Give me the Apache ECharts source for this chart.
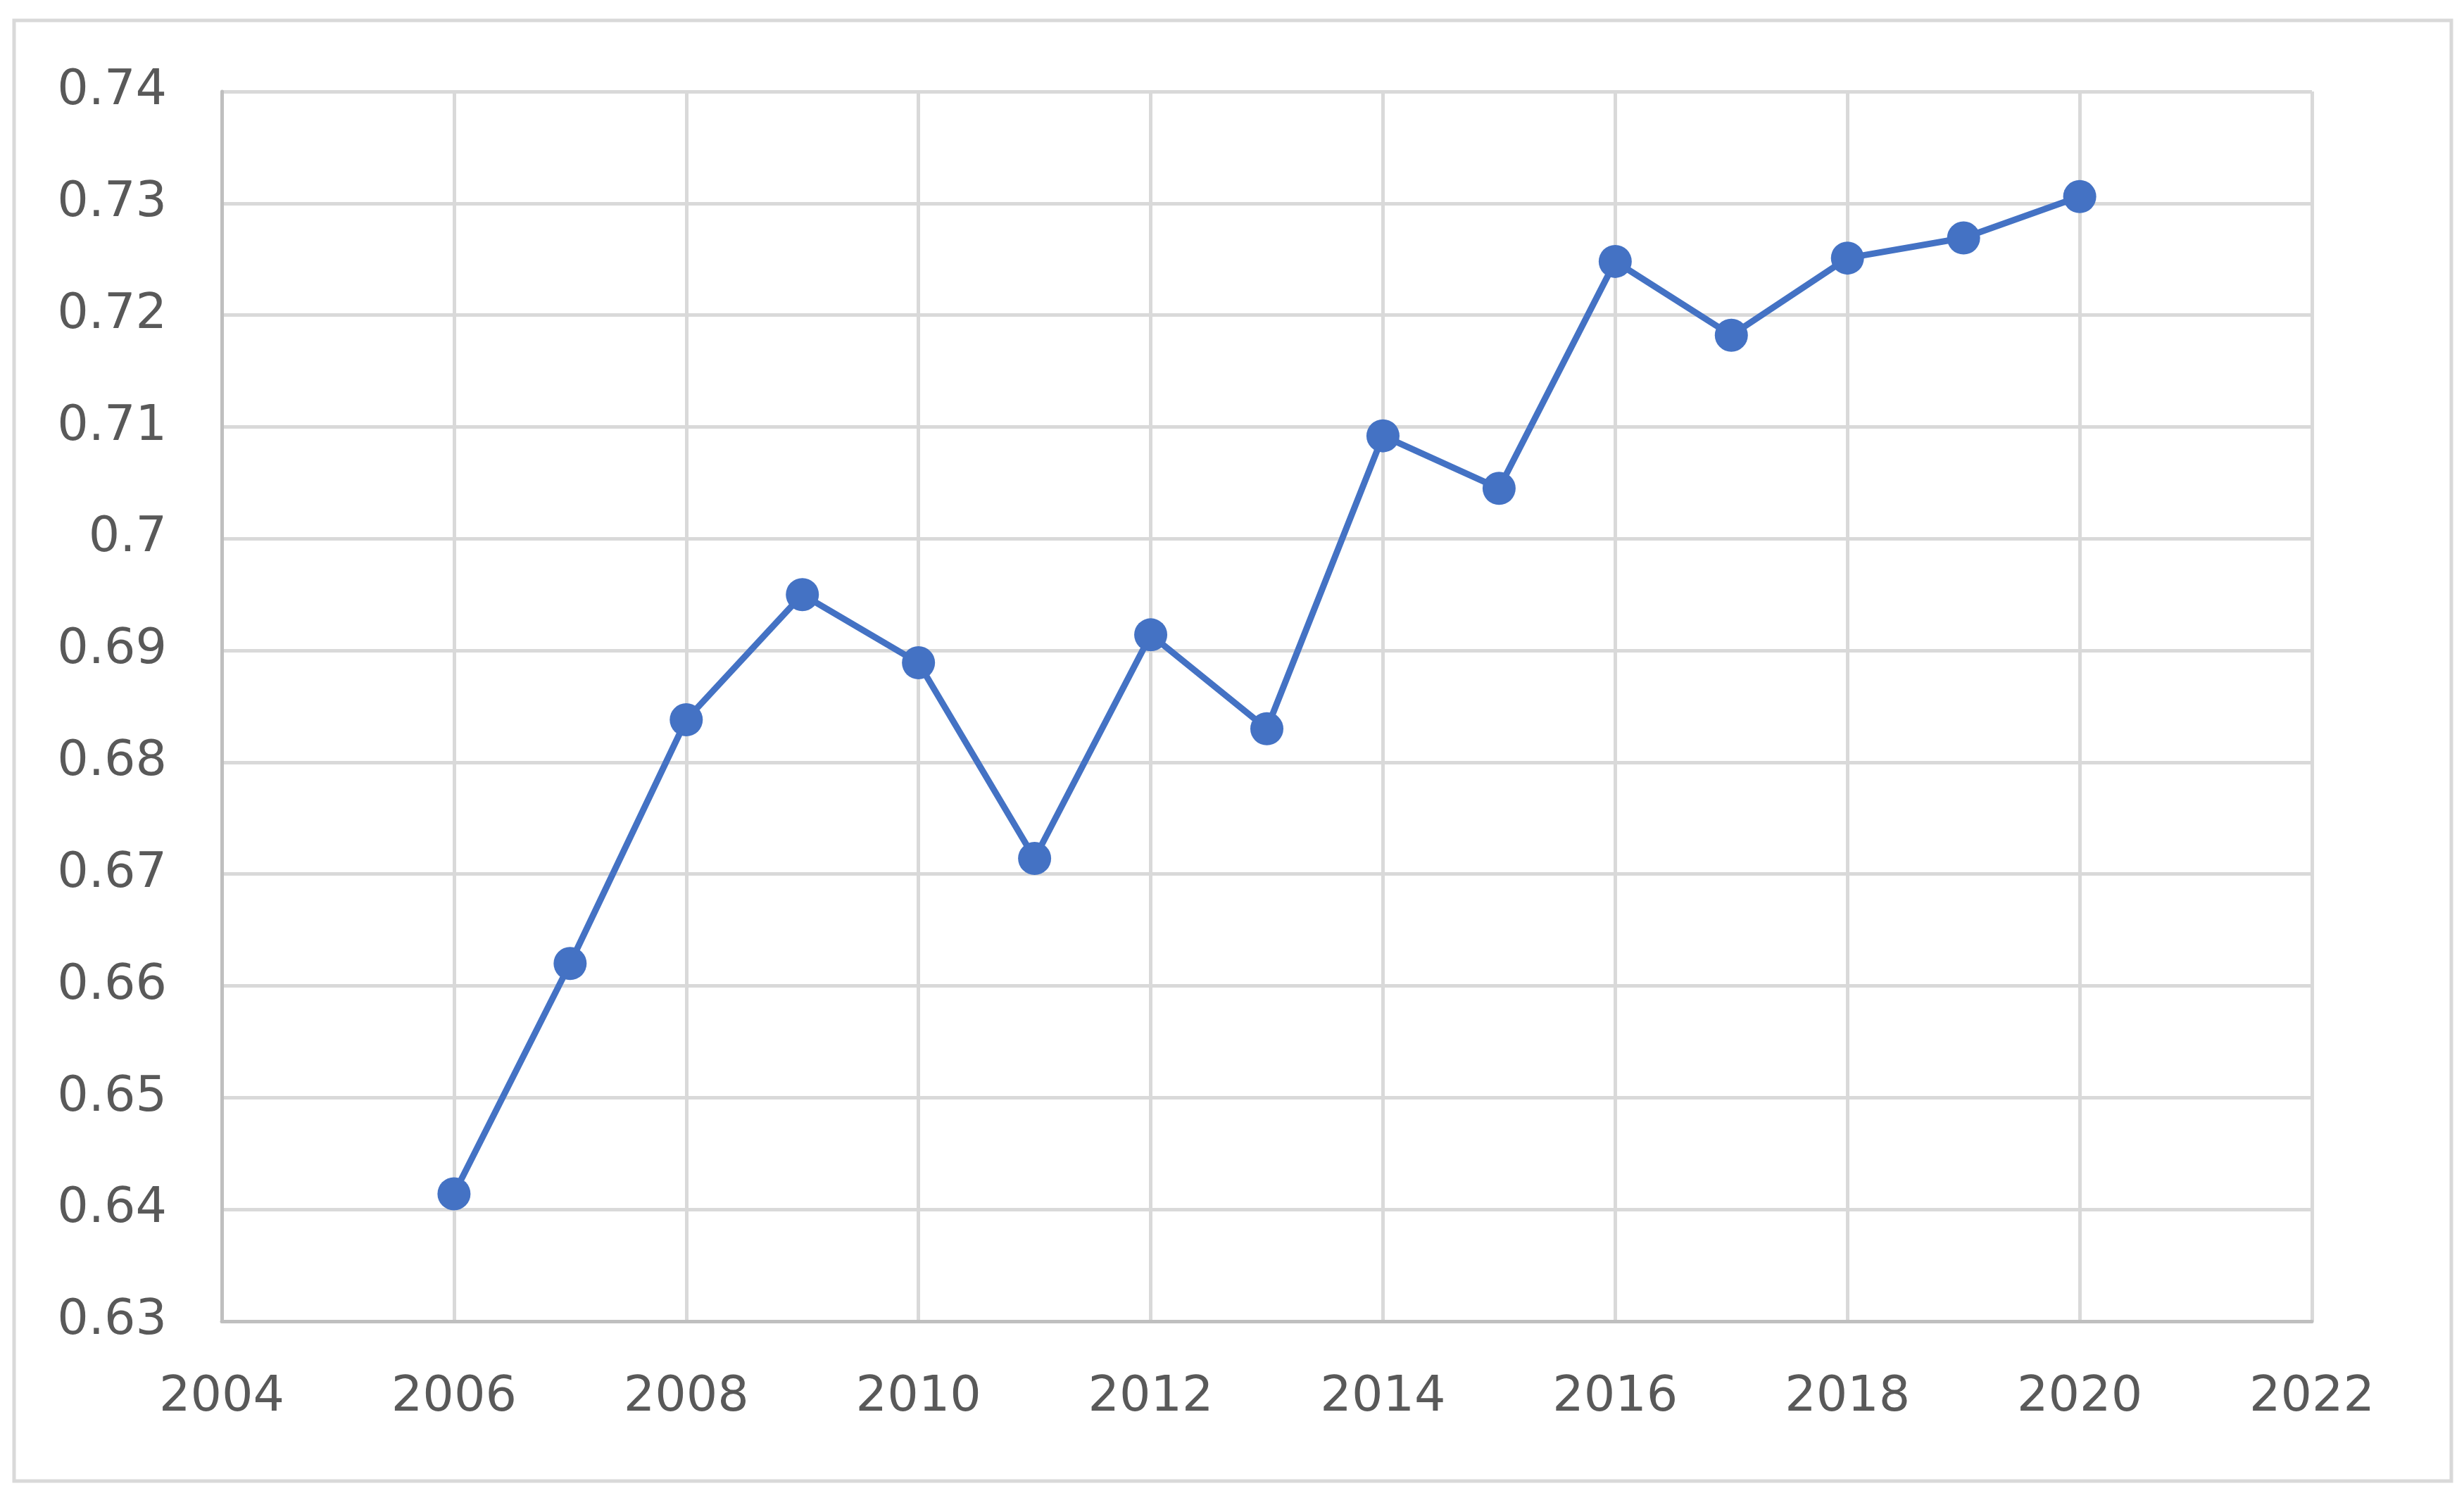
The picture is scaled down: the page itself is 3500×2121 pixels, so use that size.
<!DOCTYPE html>
<html>
<head>
<meta charset="utf-8">
<script src="https://cdn.jsdelivr.net/npm/echarts@6/dist/echarts.min.js"></script>
<style>
html,body{margin:0;padding:0;background:#fff;}
#chart{width:3500px;height:2121px;}
</style>
</head>
<body>
<div id="chart"></div>
<script>
const years = [2006, 2007, 2008, 2009, 2010, 2011, 2012, 2013, 2014, 2015, 2016, 2017, 2018, 2019, 2020];
const values = [0.6414, 0.6620, 0.6838, 0.6950, 0.6889, 0.6714, 0.6914, 0.6830, 0.7092, 0.7045, 0.7248, 0.7182, 0.7251, 0.7269, 0.7306];

const chart = echarts.init(document.getElementById('chart'), null, {renderer: 'canvas'});
const font = 'DejaVu Sans';
chart.setOption({
  animation: false,
  backgroundColor: '#ffffff',
  graphic: [{
    type: 'rect',
    shape: {x: 20, y: 29, width: 3462, height: 2075},
    style: {fill: 'none', stroke: '#d9d9d9', lineWidth: 5},
    silent: true
  }],
  grid: {left: 315, right: 216, top: 130, bottom: 244, containLabel: false},
  xAxis: {
    type: 'value',
    min: 2004, max: 2022, interval: 2,
    axisLine: {show: true, lineStyle: {color: '#bfbfbf', width: 5}},
    axisTick: {show: false},
    splitLine: {show: true, lineStyle: {color: '#d9d9d9', width: 5}},
    axisLabel: {color: '#595959', fontFamily: font, fontSize: 70, margin: 74,
      formatter: v => String(v)}
  },
  yAxis: {
    type: 'value',
    min: 0.63, max: 0.74, interval: 0.01,
    axisLine: {show: true, lineStyle: {color: '#bfbfbf', width: 5}},
    axisTick: {show: false},
    splitLine: {show: true, lineStyle: {color: '#d9d9d9', width: 5}},
    axisLabel: {color: '#595959', fontFamily: font, fontSize: 70, margin: 78}
  },
  series: [{
    type: 'line',
    data: years.map((y, i) => [y, values[i]]),
    symbol: 'circle',
    symbolSize: 47,
    lineStyle: {color: '#4472c4', width: 9},
    itemStyle: {color: '#4472c4'}
  }]
});
</script>
</body>
</html>
